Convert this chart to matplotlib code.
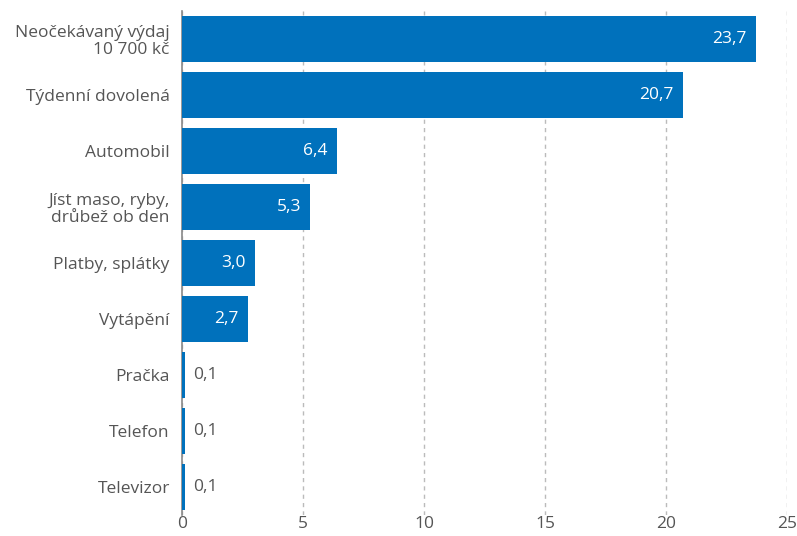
import numpy as np
import matplotlib.pyplot as plt

plt.rcParams['font.family'] = ['Open Sans', 'DejaVu Sans']

# Data
categories = ['Neočekávaný výdaj\n10 700 kč', 'Týdenní dovolená', 'Automobil',
              'Jíst maso, ryby,\ndrůbež ob den', 'Platby, splátky', 'Vytápění',
              'Pračka', 'Telefon', 'Televizor']
values = [23.7, 20.7, 6.4, 5.3, 3.0, 2.7, 0.1, 0.1, 0.1]

bar_color = '#0071bc'
text_color = '#555555'

fig = plt.figure(figsize=(7.97, 5.36), dpi=100)
ax = fig.add_axes([0.2287, 0.0392, 0.7588, 0.9403])

y = np.arange(len(categories))
ax.barh(y, values, height=0.82, color=bar_color, zorder=3)

for yi, v in zip(y, values):
    label = f'{v:.1f}'.replace('.', ',')
    if v > 1:
        ax.text(v - 0.38, yi, label, ha='right', va='center', color='white',
                fontsize=12.5, zorder=4)
    else:
        ax.text(v + 0.35, yi, label, ha='left', va='center', color=text_color,
                fontsize=12.5, zorder=4)

ax.set_ylim(len(categories) - 0.5, -0.5)
ax.set_xlim(0, 25)
ax.set_yticks(y)
ax.set_yticklabels(categories, fontsize=12.5, color=text_color, linespacing=1.05)
ax.set_xticks([0, 5, 10, 15, 20, 25])
ax.set_xticklabels(['0', '5', '10', '15', '20', '25'], fontsize=12.5, color=text_color)
ax.tick_params(axis='both', length=0)
ax.tick_params(axis='y', pad=9)
ax.tick_params(axis='x', pad=1)

for s in ['top', 'right', 'bottom']:
    ax.spines[s].set_visible(False)
ax.spines['left'].set_color('#888888')
ax.spines['left'].set_linewidth(1.2)
ax.spines['left'].set_zorder(2)

ax.grid(axis='x', linestyle=(0, (3, 3)), color='#bbbbbb', linewidth=1, zorder=0)
ax.set_axisbelow(True)

fig.savefig('out.png', dpi=100)
